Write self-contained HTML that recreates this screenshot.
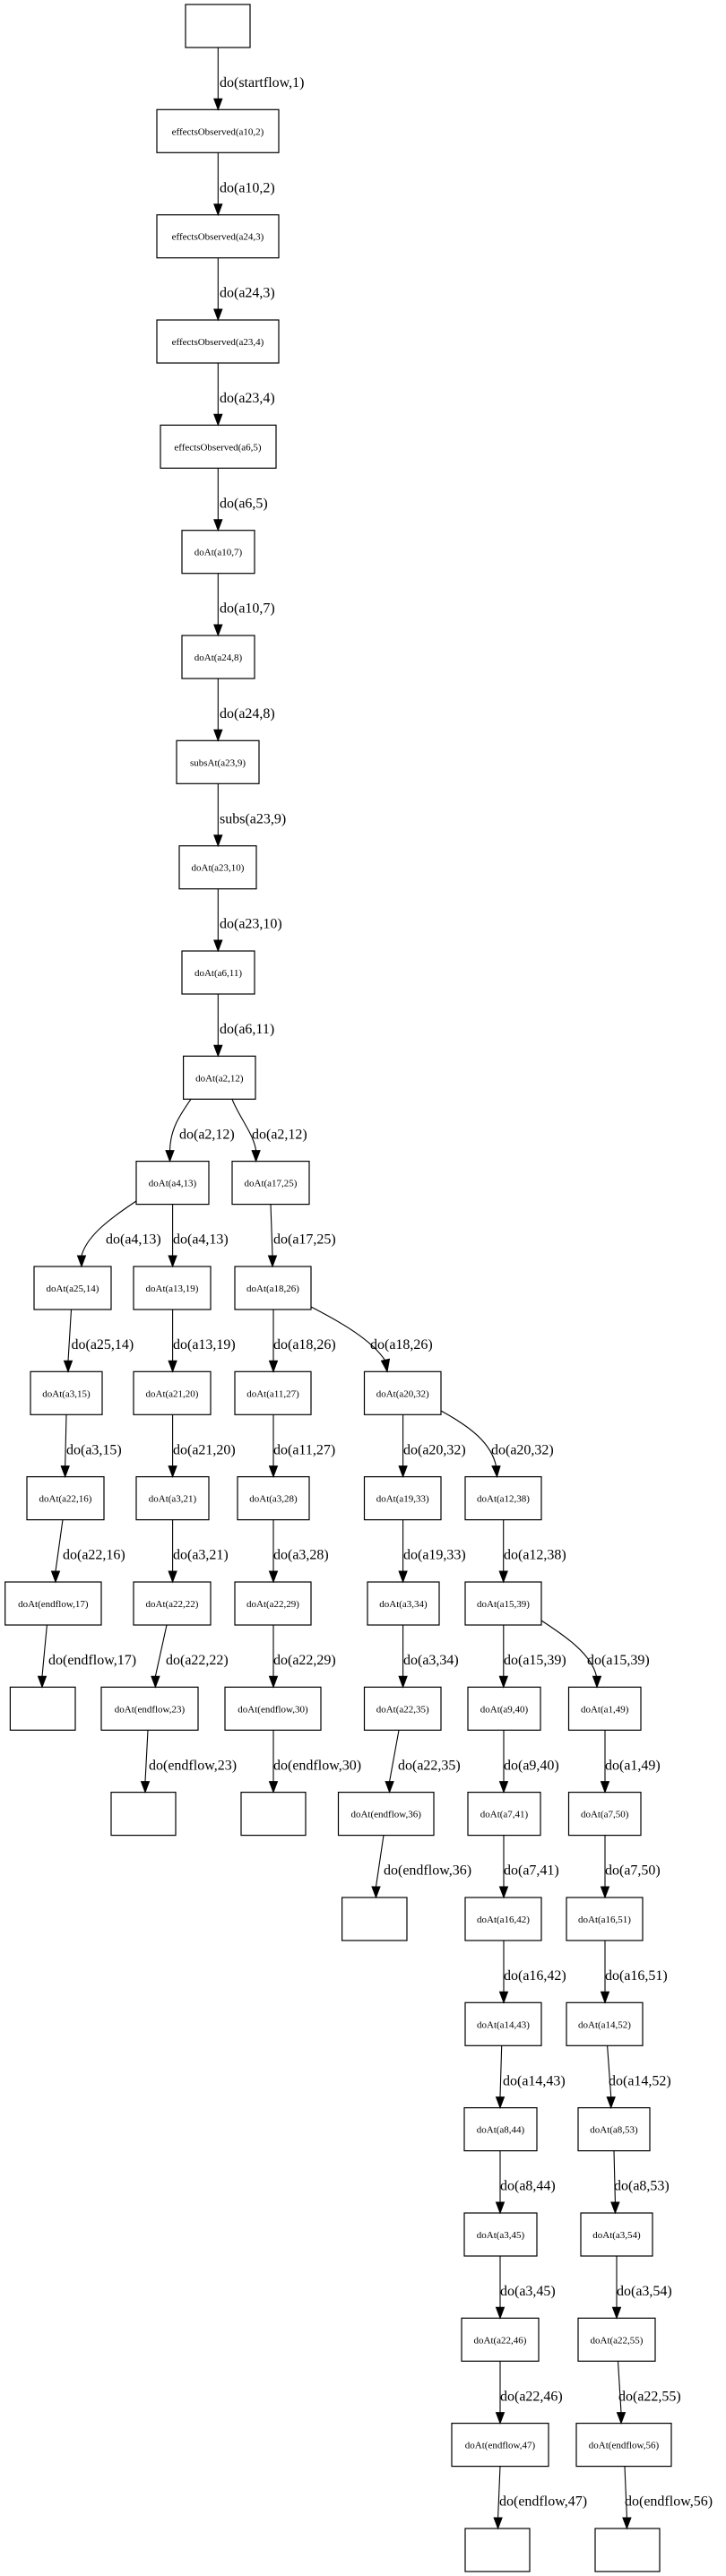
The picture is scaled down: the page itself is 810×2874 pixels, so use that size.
<!DOCTYPE html>
<html><head><meta charset="utf-8"><style>
html,body{margin:0;padding:0;background:#fff;}
svg{display:block;}
.n{fill:#fff;stroke:#000;stroke-width:1.2;}
.e{fill:none;stroke:#000;stroke-width:1.1;}
.a{fill:#000;stroke:#000;stroke-width:1;}
.t{font-family:"Liberation Serif",serif;font-size:11px;text-anchor:middle;fill:#000;}
.l{font-family:"Liberation Serif",serif;font-size:16px;fill:#000;}
</style></head><body>
<svg width="810" height="2874" viewBox="0 0 810 2874" xmlns="http://www.w3.org/2000/svg">
<!-- nodes -->
<rect class="n" x="207" y="5" width="72" height="48"/>
<rect class="n" x="175" y="122.3" width="136" height="48"/><text class="t" x="243" y="150.3">effectsObserved(a10,2)</text>
<rect class="n" x="175" y="239.7" width="136" height="48"/><text class="t" x="243" y="267.7">effectsObserved(a24,3)</text>
<rect class="n" x="175" y="357" width="136" height="48"/><text class="t" x="243" y="385">effectsObserved(a23,4)</text>
<rect class="n" x="179" y="474.3" width="129" height="48"/><text class="t" x="243" y="502.3">effectsObserved(a6,5)</text>
<rect class="n" x="203" y="591.7" width="81" height="48"/><text class="t" x="243.5" y="619.7">doAt(a10,7)</text>
<rect class="n" x="203" y="709" width="81" height="48"/><text class="t" x="243.5" y="737">doAt(a24,8)</text>
<rect class="n" x="197" y="826.3" width="92" height="48"/><text class="t" x="243" y="854.3">subsAt(a23,9)</text>
<rect class="n" x="200" y="943.7" width="86" height="48"/><text class="t" x="243" y="971.7">doAt(a23,10)</text>
<rect class="n" x="203" y="1061" width="81" height="48"/><text class="t" x="243.5" y="1089">doAt(a6,11)</text>
<rect class="n" x="204.6" y="1178.3" width="80.4" height="48"/><text class="t" x="244.8" y="1206.3">doAt(a2,12)</text>

<rect class="n" x="152" y="1295.6" width="81" height="48"/><text class="t" x="192.5" y="1323.6">doAt(a4,13)</text>
<rect class="n" x="259" y="1295.6" width="86" height="48"/><text class="t" x="302" y="1323.6">doAt(a17,25)</text>

<rect class="n" x="38" y="1413" width="86" height="48"/><text class="t" x="81" y="1441">doAt(a25,14)</text>
<rect class="n" x="149" y="1413" width="86" height="48"/><text class="t" x="192" y="1441">doAt(a13,19)</text>
<rect class="n" x="262" y="1413" width="85" height="48"/><text class="t" x="304.5" y="1441">doAt(a18,26)</text>

<rect class="n" x="34" y="1530.3" width="80" height="48"/><text class="t" x="74" y="1558.3">doAt(a3,15)</text>
<rect class="n" x="149" y="1530.3" width="86" height="48"/><text class="t" x="192" y="1558.3">doAt(a21,20)</text>
<rect class="n" x="262" y="1530.3" width="85" height="48"/><text class="t" x="304.5" y="1558.3">doAt(a11,27)</text>
<rect class="n" x="406.5" y="1530.3" width="85.5" height="48"/><text class="t" x="449.2" y="1558.3">doAt(a20,32)</text>

<rect class="n" x="30" y="1647.6" width="86" height="48"/><text class="t" x="73" y="1675.6">doAt(a22,16)</text>
<rect class="n" x="152" y="1647.6" width="81" height="48"/><text class="t" x="192.5" y="1675.6">doAt(a3,21)</text>
<rect class="n" x="265" y="1647.6" width="80" height="48"/><text class="t" x="305" y="1675.6">doAt(a3,28)</text>
<rect class="n" x="406.5" y="1647.6" width="85.5" height="48"/><text class="t" x="449.2" y="1675.6">doAt(a19,33)</text>
<rect class="n" x="519" y="1647.6" width="85" height="48"/><text class="t" x="561.5" y="1675.6">doAt(a12,38)</text>

<rect class="n" x="5.7" y="1765" width="107.3" height="48"/><text class="t" x="59.3" y="1793">doAt(endflow,17)</text>
<rect class="n" x="149" y="1765" width="86" height="48"/><text class="t" x="192" y="1793">doAt(a22,22)</text>
<rect class="n" x="262" y="1765" width="85" height="48"/><text class="t" x="304.5" y="1793">doAt(a22,29)</text>
<rect class="n" x="410" y="1765" width="80" height="48"/><text class="t" x="450" y="1793">doAt(a3,34)</text>
<rect class="n" x="519" y="1765" width="85" height="48"/><text class="t" x="561.5" y="1793">doAt(a15,39)</text>

<rect class="n" x="11.4" y="1882.3" width="72.6" height="48"/>
<rect class="n" x="113" y="1882.3" width="108" height="48"/><text class="t" x="167" y="1910.3">doAt(endflow,23)</text>
<rect class="n" x="251" y="1882.3" width="107" height="48"/><text class="t" x="304.5" y="1910.3">doAt(endflow,30)</text>
<rect class="n" x="406.5" y="1882.3" width="85.5" height="48"/><text class="t" x="449.2" y="1910.3">doAt(a22,35)</text>
<rect class="n" x="522" y="1882.3" width="81" height="48"/><text class="t" x="562.5" y="1910.3">doAt(a9,40)</text>
<rect class="n" x="634.5" y="1882.3" width="80.5" height="48"/><text class="t" x="674.7" y="1910.3">doAt(a1,49)</text>

<rect class="n" x="124" y="1999.6" width="72" height="48"/>
<rect class="n" x="269" y="1999.6" width="72" height="48"/>
<rect class="n" x="377.5" y="1999.6" width="106.5" height="48"/><text class="t" x="430.7" y="2027.6">doAt(endflow,36)</text>
<rect class="n" x="522" y="1999.6" width="81" height="48"/><text class="t" x="562.5" y="2027.6">doAt(a7,41)</text>
<rect class="n" x="634.5" y="1999.6" width="80.5" height="48"/><text class="t" x="674.7" y="2027.6">doAt(a7,50)</text>

<rect class="n" x="381.6" y="2117" width="72.4" height="48"/>
<rect class="n" x="519" y="2117" width="85" height="48"/><text class="t" x="561.5" y="2145">doAt(a16,42)</text>
<rect class="n" x="632" y="2117" width="85" height="48"/><text class="t" x="674.5" y="2145">doAt(a16,51)</text>

<rect class="n" x="519" y="2234.3" width="85" height="48"/><text class="t" x="561.5" y="2262.3">doAt(a14,43)</text>
<rect class="n" x="632" y="2234.3" width="85" height="48"/><text class="t" x="674.5" y="2262.3">doAt(a14,52)</text>

<rect class="n" x="518" y="2351.6" width="81" height="48"/><text class="t" x="558.5" y="2379.6">doAt(a8,44)</text>
<rect class="n" x="645" y="2351.6" width="80" height="48"/><text class="t" x="685" y="2379.6">doAt(a8,53)</text>

<rect class="n" x="518" y="2469" width="81" height="48"/><text class="t" x="558.5" y="2497">doAt(a3,45)</text>
<rect class="n" x="648" y="2469" width="80" height="48"/><text class="t" x="688" y="2497">doAt(a3,54)</text>

<rect class="n" x="515" y="2586.3" width="86" height="48"/><text class="t" x="558" y="2614.3">doAt(a22,46)</text>
<rect class="n" x="645" y="2586.3" width="86" height="48"/><text class="t" x="688" y="2614.3">doAt(a22,55)</text>

<rect class="n" x="504" y="2703.6" width="108" height="48"/><text class="t" x="558" y="2731.6">doAt(endflow,47)</text>
<rect class="n" x="643" y="2703.6" width="106" height="48"/><text class="t" x="696" y="2731.6">doAt(endflow,56)</text>

<rect class="n" x="519" y="2821" width="72" height="48"/>
<rect class="n" x="664" y="2821" width="72" height="48"/>

<!-- edges -->
<path class="e" d="M243.3 53 L243.3 110.3"/><polygon class="a" points="238.8,110.3 247.8,110.3 243.3,122.3"/><text class="l" x="245" y="97">do(startflow,1)</text>
<path class="e" d="M243.3 170.3 L243.3 227.7"/><polygon class="a" points="238.8,227.7 247.8,227.7 243.3,239.7"/><text class="l" x="245" y="214.3">do(a10,2)</text>
<path class="e" d="M243.3 287.7 L243.3 345"/><polygon class="a" points="238.8,345 247.8,345 243.3,357"/><text class="l" x="245" y="331.7">do(a24,3)</text>
<path class="e" d="M243.3 405 L243.3 462.3"/><polygon class="a" points="238.8,462.3 247.8,462.3 243.3,474.3"/><text class="l" x="245" y="449">do(a23,4)</text>
<path class="e" d="M243.3 522.3 L243.3 579.7"/><polygon class="a" points="238.8,579.7 247.8,579.7 243.3,591.7"/><text class="l" x="245" y="566.3">do(a6,5)</text>
<path class="e" d="M243.3 639.7 L243.3 697"/><polygon class="a" points="238.8,697 247.8,697 243.3,709"/><text class="l" x="245" y="683.7">do(a10,7)</text>
<path class="e" d="M243.3 757 L243.3 814.3"/><polygon class="a" points="238.8,814.3 247.8,814.3 243.3,826.3"/><text class="l" x="245" y="801">do(a24,8)</text>
<path class="e" d="M243.3 874.3 L243.3 931.7"/><polygon class="a" points="238.8,931.7 247.8,931.7 243.3,943.7"/><text class="l" x="245" y="918.3">subs(a23,9)</text>
<path class="e" d="M243.3 991.7 L243.3 1049"/><polygon class="a" points="238.8,1049 247.8,1049 243.3,1061"/><text class="l" x="245" y="1035.7">do(a23,10)</text>
<path class="e" d="M243.3 1109 L243.3 1166.3"/><polygon class="a" points="238.8,1166.3 247.8,1166.3 243.3,1178.3"/><text class="l" x="245" y="1153">do(a6,11)</text>

<path class="e" d="M213 1226.3 C200 1245 190 1260 189.5 1283.6"/><polygon class="a" points="185,1283.6 194,1283.6 189.5,1295.6"/><text class="l" x="200" y="1270.3">do(a2,12)</text>
<path class="e" d="M259 1226.3 C266 1245 283 1265 285.6 1283.6"/><polygon class="a" points="281.1,1283.6 290.1,1283.6 285.6,1295.6"/><text class="l" x="281" y="1270.3">do(a2,12)</text>

<path class="e" d="M152 1340 C125 1358 97 1378 91 1401"/><polygon class="a" points="86.5,1401 95.5,1401 91,1413"/><text class="l" x="118" y="1387.6">do(a4,13)</text>
<path class="e" d="M192.6 1343.6 L192.6 1401"/><polygon class="a" points="188.1,1401 197.1,1401 192.6,1413"/><text class="l" x="193" y="1387.6">do(a4,13)</text>
<path class="e" d="M302 1343.6 L304 1401"/><polygon class="a" points="299.5,1401 308.5,1401 304,1413"/><text class="l" x="305" y="1387.6">do(a17,25)</text>

<path class="e" d="M79.5 1461 L76 1518.3"/><polygon class="a" points="71.5,1518.3 80.5,1518.3 76,1530.3"/><text class="l" x="79.5" y="1505">do(a25,14)</text>
<path class="e" d="M192.6 1461 L192.6 1518.3"/><polygon class="a" points="188.1,1518.3 197.1,1518.3 192.6,1530.3"/><text class="l" x="193" y="1505">do(a13,19)</text>
<path class="e" d="M305 1461 L305 1518.3"/><polygon class="a" points="300.5,1518.3 309.5,1518.3 305,1530.3"/><text class="l" x="305" y="1505">do(a18,26)</text>
<path class="e" d="M347 1458 C380 1475 415 1495 430 1518.3"/><polygon class="a" points="425.5,1518.3 434.5,1516.3 432,1530.3"/><text class="l" x="413" y="1505">do(a18,26)</text>

<path class="e" d="M74 1578.3 L72.7 1635.6"/><polygon class="a" points="68.2,1635.6 77.2,1635.6 72.7,1647.6"/><text class="l" x="74" y="1622.3">do(a3,15)</text>
<path class="e" d="M192.6 1578.3 L192.6 1635.6"/><polygon class="a" points="188.1,1635.6 197.1,1635.6 192.6,1647.6"/><text class="l" x="193" y="1622.3">do(a21,20)</text>
<path class="e" d="M305 1578.3 L305 1635.6"/><polygon class="a" points="300.5,1635.6 309.5,1635.6 305,1647.6"/><text class="l" x="305" y="1622.3">do(a11,27)</text>
<path class="e" d="M449.6 1578.3 L449.6 1635.6"/><polygon class="a" points="445.1,1635.6 454.1,1635.6 449.6,1647.6"/><text class="l" x="450" y="1622.3">do(a20,32)</text>
<path class="e" d="M492 1574 C525 1592 548 1610 553.5 1635.6"/><polygon class="a" points="549,1635.6 558,1635.6 554.5,1647.6"/><text class="l" x="548" y="1622.3">do(a20,32)</text>

<path class="e" d="M70 1695.6 L62 1753"/><polygon class="a" points="57.5,1753 66.5,1753 62,1765"/><text class="l" x="70" y="1739.6">do(a22,16)</text>
<path class="e" d="M192.6 1695.6 L192.6 1753"/><polygon class="a" points="188.1,1753 197.1,1753 192.6,1765"/><text class="l" x="193" y="1739.6">do(a3,21)</text>
<path class="e" d="M305 1695.6 L305 1753"/><polygon class="a" points="300.5,1753 309.5,1753 305,1765"/><text class="l" x="305" y="1739.6">do(a3,28)</text>
<path class="e" d="M449.6 1695.6 L449.6 1753"/><polygon class="a" points="445.1,1753 454.1,1753 449.6,1765"/><text class="l" x="450" y="1739.6">do(a19,33)</text>
<path class="e" d="M561.7 1695.6 L561.7 1753"/><polygon class="a" points="557.2,1753 566.2,1753 561.7,1765"/><text class="l" x="562" y="1739.6">do(a12,38)</text>

<path class="e" d="M52.4 1813 L47 1870.3"/><polygon class="a" points="42.5,1870.3 51.5,1870.3 47,1882.3"/><text class="l" x="54" y="1857">do(endflow,17)</text>
<path class="e" d="M186 1813 L173.4 1870.3"/><polygon class="a" points="168.9,1870.3 177.9,1870.3 173.4,1882.3"/><text class="l" x="185" y="1857">do(a22,22)</text>
<path class="e" d="M305 1813 L305 1870.3"/><polygon class="a" points="300.5,1870.3 309.5,1870.3 305,1882.3"/><text class="l" x="305" y="1857">do(a22,29)</text>
<path class="e" d="M449.6 1813 L449.6 1870.3"/><polygon class="a" points="445.1,1870.3 454.1,1870.3 449.6,1882.3"/><text class="l" x="450" y="1857">do(a3,34)</text>
<path class="e" d="M561.8 1813 L561.8 1870.3"/><polygon class="a" points="557.3,1870.3 566.3,1870.3 561.8,1882.3"/><text class="l" x="562" y="1857">do(a15,39)</text>
<path class="e" d="M604 1808 C630 1825 660 1845 665.5 1870.3"/><polygon class="a" points="661.5,1870.3 670.5,1870.3 666,1882.3"/><text class="l" x="655" y="1857">do(a15,39)</text>

<path class="e" d="M165 1930.3 L162 1987.6"/><polygon class="a" points="157.5,1987.6 166.5,1987.6 162,1999.6"/><text class="l" x="166" y="1974.3">do(endflow,23)</text>
<path class="e" d="M305 1930.3 L305 1987.6"/><polygon class="a" points="300.5,1987.6 309.5,1987.6 305,1999.6"/><text class="l" x="305" y="1974.3">do(endflow,30)</text>
<path class="e" d="M445 1930.3 L434.6 1987.6"/><polygon class="a" points="430.1,1987.6 439.1,1987.6 434.6,1999.6"/><text class="l" x="444" y="1974.3">do(a22,35)</text>
<path class="e" d="M562 1930.3 L562 1987.6"/><polygon class="a" points="557.5,1987.6 566.5,1987.6 562,1999.6"/><text class="l" x="562" y="1974.3">do(a9,40)</text>
<path class="e" d="M675 1930.3 L675 1987.6"/><polygon class="a" points="670.5,1987.6 679.5,1987.6 675,1999.6"/><text class="l" x="675" y="1974.3">do(a1,49)</text>

<path class="e" d="M428 2047.6 L419.5 2105"/><polygon class="a" points="415,2105 424,2105 419.5,2117"/><text class="l" x="428" y="2091.6">do(endflow,36)</text>
<path class="e" d="M562 2047.6 L562 2105"/><polygon class="a" points="557.5,2105 566.5,2105 562,2117"/><text class="l" x="562" y="2091.6">do(a7,41)</text>
<path class="e" d="M675 2047.6 L675 2105"/><polygon class="a" points="670.5,2105 679.5,2105 675,2117"/><text class="l" x="675" y="2091.6">do(a7,50)</text>

<path class="e" d="M562 2165 L562 2222.3"/><polygon class="a" points="557.5,2222.3 566.5,2222.3 562,2234.3"/><text class="l" x="562" y="2209">do(a16,42)</text>
<path class="e" d="M675 2165 L675 2222.3"/><polygon class="a" points="670.5,2222.3 679.5,2222.3 675,2234.3"/><text class="l" x="675" y="2209">do(a16,51)</text>

<path class="e" d="M559.7 2282.3 L558 2339.6"/><polygon class="a" points="553.5,2339.6 562.5,2339.6 558,2351.6"/><text class="l" x="561" y="2326.3">do(a14,43)</text>
<path class="e" d="M677.6 2282.3 L681.7 2339.6"/><polygon class="a" points="677.2,2339.6 686.2,2339.6 681.7,2351.6"/><text class="l" x="679" y="2326.3">do(a14,52)</text>

<path class="e" d="M558 2399.6 L558 2457"/><polygon class="a" points="553.5,2457 562.5,2457 558,2469"/><text class="l" x="558" y="2443.6">do(a8,44)</text>
<path class="e" d="M685 2399.6 L686.4 2457"/><polygon class="a" points="681.9,2457 690.9,2457 686.4,2469"/><text class="l" x="685" y="2443.6">do(a8,53)</text>

<path class="e" d="M558 2517 L558 2574.3"/><polygon class="a" points="553.5,2574.3 562.5,2574.3 558,2586.3"/><text class="l" x="558" y="2561">do(a3,45)</text>
<path class="e" d="M688 2517 L688 2574.3"/><polygon class="a" points="683.5,2574.3 692.5,2574.3 688,2586.3"/><text class="l" x="688" y="2561">do(a3,54)</text>

<path class="e" d="M558 2634.3 L558 2691.6"/><polygon class="a" points="553.5,2691.6 562.5,2691.6 558,2703.6"/><text class="l" x="558" y="2678.3">do(a22,46)</text>
<path class="e" d="M689.5 2634.3 L693 2691.6"/><polygon class="a" points="688.5,2691.6 697.5,2691.6 693,2703.6"/><text class="l" x="690" y="2678.3">do(a22,55)</text>

<path class="e" d="M558 2751.6 L555.6 2809"/><polygon class="a" points="551.1,2809 560.1,2809 555.6,2821"/><text class="l" x="557" y="2795.6">do(endflow,47)</text>
<path class="e" d="M697 2751.6 L699.4 2809"/><polygon class="a" points="694.9,2809 703.9,2809 699.4,2821"/><text class="l" x="697" y="2795.6">do(endflow,56)</text>
</svg>
</body></html>
